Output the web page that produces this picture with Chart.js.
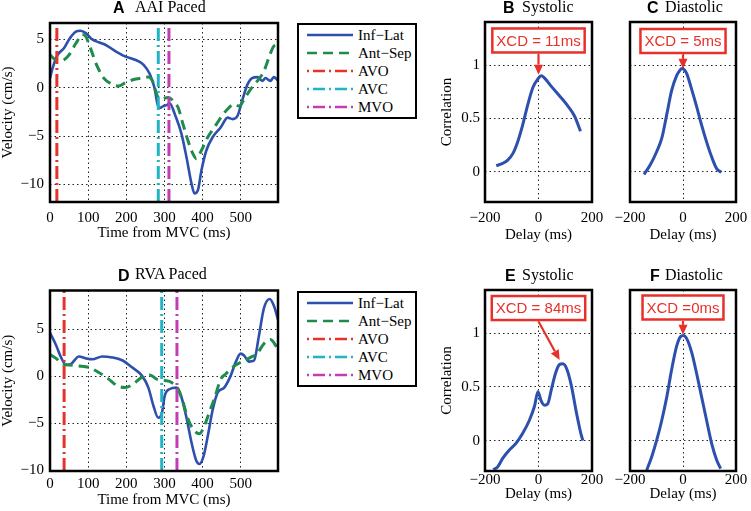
<!DOCTYPE html>
<html>
<head>
<meta charset="utf-8">
<script src="https://cdn.jsdelivr.net/npm/chart.js@4.4.1/dist/chart.umd.min.js"></script>
<style>
  body { margin: 0; background: #fff; }
  #fig { position: relative; width: 751px; height: 511px; overflow: hidden; background: #fff; }
  #fig canvas { position: absolute; }
  .lt { position: absolute; font: bold 16px "Liberation Sans", Arial, sans-serif; line-height: 16px; white-space: nowrap; }
  .tt { position: absolute; font: 16px "Liberation Serif", "Times New Roman", serif; line-height: 16px; white-space: nowrap; }
  .leg { position: absolute; box-sizing: border-box; width: 120px; height: 96px; border: 2.5px solid #000; background: #fff; }
  .leg span { position: absolute; font: 15px "Liberation Serif", "Times New Roman", serif; line-height: 18px; white-space: nowrap; }
  .leg svg { position: absolute; }
</style>
</head>
<body>
<div id="fig">
  <canvas id="cA" width="290" height="245" style="left:0;top:0"></canvas>
  <canvas id="cB" width="176" height="245" style="left:436px;top:0"></canvas>
  <canvas id="cC" width="146" height="245" style="left:605px;top:0"></canvas>
  <canvas id="cD" width="290" height="260" style="left:0;top:250px"></canvas>
  <canvas id="cE" width="176" height="260" style="left:436px;top:250px"></canvas>
  <canvas id="cF" width="146" height="260" style="left:605px;top:250px"></canvas>

  <div class="lt" style="left:113px;top:-0.5px">A</div><div class="tt" style="left:135px;top:-1.5px">AAI Paced</div>
  <div class="lt" style="left:503px;top:-0.5px">B</div><div class="tt" style="left:522px;top:-1.5px">Systolic</div>
  <div class="lt" style="left:647px;top:-0.5px">C</div><div class="tt" style="left:665px;top:-1.5px">Diastolic</div>
  <div class="lt" style="left:118px;top:268px">D</div><div class="tt" style="left:135px;top:266px">RVA Paced</div>
  <div class="lt" style="left:505px;top:268px">E</div><div class="tt" style="left:522px;top:266.5px">Systolic</div>
  <div class="lt" style="left:650px;top:268px">F</div><div class="tt" style="left:665px;top:266.5px">Diastolic</div>

  <div class="leg" id="legA" style="left:297px;top:23px"></div>
  <div class="leg" id="legD" style="left:297px;top:291px"></div>
</div>
<script>
// series names and event markers
const seriesNames = ["Inf\u2212Lat", "Ant\u2212Sep", "AVO", "AVC", "MVO"];
const seriesColors = ["#2d4fae", "#1f8c4c", "#e5322b", "#22b3c4", "#c23db4"];

// A: AAI paced velocity (cm/s) vs time from MVC (ms)
const aInfLatT = [0, 7, 20, 37, 50, 68, 80, 94, 111, 128, 145, 171, 197, 223, 245, 262, 274, 282, 288, 297, 306, 314, 327, 345, 358, 371, 379, 388, 397, 410, 427, 448, 466, 479, 492, 505, 518, 530, 544, 557, 565, 578, 587, 598];
const aInfLatV = [1.0, 2.05, 3.4, 4.1, 5.0, 5.8, 5.9, 5.65, 5.0, 4.7, 4.45, 3.8, 3.25, 2.9, 2.4, 1.4, 0, -1.7, -2.1, -1.9, -1.8, -1.6, -2.7, -4.8, -7.2, -9.9, -10.95, -10.6, -8.6, -6.5, -5.1, -4.1, -3.1, -3.25, -2.9, -1.2, 0.35, 1.0, 1.1, 0.7, 1.0, 0.7, 1.1, 0.75];
const aAntSepT = [0, 11, 24, 37, 50, 68, 85, 94, 106, 124, 141, 163, 180, 197, 219, 241, 258, 271, 280, 288, 310, 327, 336, 349, 362, 375, 384, 397, 414, 431, 448, 466, 483, 496, 509, 526, 544, 561, 574, 587, 598];
const aAntSepV = [3.4, 3.0, 2.75, 2.9, 3.4, 4.6, 5.5, 5.3, 4.1, 2.2, 1.0, 0.35, 0.17, 0.5, 0.85, 1.0, 1.1, 0.5, -0.7, -1.2, -1.0, -1.55, -2.05, -3.8, -5.5, -6.85, -7.35, -6.5, -5.1, -4.1, -3.1, -2.2, -1.7, -1.9, -1.2, -0.17, 0.7, 1.7, 3.1, 4.3, 4.45];
const aEvents = [18, 284, 312]; // AVO, AVC, MVO

// D: RVA paced
const dInfLatT = [0, 16, 29, 42, 55, 76, 94, 111, 137, 163, 189, 215, 241, 258, 271, 284, 293, 301, 314, 332, 345, 358, 371, 384, 392, 403, 414, 427, 440, 457, 474, 487, 500, 509, 522, 535, 548, 561, 576, 587, 598];
const dInfLatV = [4.6, 3.3, 2.0, 1.2, 1.3, 2.1, 1.9, 1.8, 2.1, 2.0, 1.7, 0.95, 0.07, -1.2, -3.1, -4.4, -4.0, -2.05, -1.35, -1.2, -2.25, -4.4, -7.0, -9.0, -9.3, -8.45, -6.3, -3.5, -1.7, -1.2, 0.07, 1.5, 2.4, 2.2, 1.55, 1.65, 4.3, 7.2, 8.2, 7.5, 6.0];
const dAntSepT = [0, 16, 33, 50, 76, 102, 128, 154, 176, 197, 219, 241, 262, 280, 301, 319, 336, 349, 362, 379, 392, 405, 418, 431, 448, 461, 474, 492, 509, 526, 543, 561, 578, 598];
const dAntSepV = [2.3, 1.9, 1.3, 1.2, 1.1, 0.95, 0.4, -0.3, -1.0, -1.2, -0.8, -0.1, 0.14, -0.3, -0.45, -0.65, -1.35, -2.75, -4.55, -5.8, -6.1, -5.25, -3.8, -2.4, -0.3, 0.25, 0.8, 1.3, 1.65, 2.0, 2.4, 3.45, 3.9, 2.9];
const dEvents = [37, 293, 333];

// B-F: correlation vs delay (ms)
const bDelay = [-158, -134, -115, -96, -78, -59, -40, -21, -2, 10, 22, 48, 79, 110, 135, 157];
const bCorr = [0.057, 0.079, 0.11, 0.17, 0.28, 0.44, 0.63, 0.79, 0.87, 0.90, 0.88, 0.80, 0.71, 0.615, 0.52, 0.38];
const cDelay = [-147, -124, -99, -80, -61, -43, -24, -12, -4, 5, 14, 33, 51, 70, 89, 108, 127, 145];
const cCorr = [-0.025, 0.063, 0.19, 0.315, 0.54, 0.76, 0.9, 0.95, 0.968, 0.955, 0.92, 0.77, 0.615, 0.44, 0.28, 0.14, 0.03, -0.006];
const eDelay = [-169, -153, -134, -109, -84, -59, -34, -15, -2, 10, 22, 35, 48, 64, 79, 91, 106, 123, 142, 158, 166];
const eCorr = [-0.27, -0.245, -0.166, -0.088, -0.025, 0.069, 0.19, 0.32, 0.455, 0.37, 0.33, 0.345, 0.475, 0.63, 0.71, 0.715, 0.665, 0.51, 0.257, 0.07, 0.0];
const fDelay = [-137, -118, -99, -80, -61, -43, -24, -9, 1, 14, 33, 51, 70, 89, 108, 127, 142];
const fCorr = [-0.275, -0.15, 0.006, 0.19, 0.41, 0.66, 0.88, 0.97, 0.98, 0.95, 0.82, 0.63, 0.41, 0.19, -0.025, -0.18, -0.26];

// annotations: label, box centre (delay, corr), arrow tip (delay, corr)
const xcdLabels = ["XCD = 11ms", "XCD = 5ms", "XCD = 84ms", "XCD =0ms"];
const xcdBoxAt = [[0, 1.23], [0, 1.225], [0, 1.235], [0, 1.24]];
const xcdTips = [[0, 0.91], [0, 0.965], [79, 0.75], [0, 0.985]];

// tick labels
const timeTicks = [0, 100, 200, 300, 400, 500];
const velTicks = [-10, -5, 0, 5];
const delayTicks = [-200, 0, 200];
const corrTicks = [0, 0.5, 1];

Chart.defaults.color = "#000";
Chart.defaults.font.family = '"Liberation Serif", "Times New Roman", serif';

const serif15 = { family: '"Liberation Serif", "Times New Roman", serif', size: 15, lineHeight: 1.2 };
const annRed = "#e8302a";
const dashDot = [13, 4, 2, 4];

function pts(t, v) { return t.map((x, i) => ({ x: x, y: v[i] })); }
function fmt(v) { return String(v).replace("-", "\u2212"); }

function velocitySets(tI, vI, tA, vA, ev, lim) {
  const sets = [
    { data: pts(tI, vI), borderColor: seriesColors[0], borderWidth: 2.6, order: 4, cubicInterpolationMode: "monotone" },
    { data: pts(tA, vA), borderColor: seriesColors[1], borderWidth: 3, borderDash: [10, 6], order: 3, cubicInterpolationMode: "monotone" }
  ];
  ev.forEach((t, i) => {
    sets.push({ data: [{ x: t, y: lim[0] }, { x: t, y: lim[1] }], borderColor: seriesColors[2 + i],
      borderWidth: 3, borderDash: dashDot, order: 2 - i, tension: 0 });
  });
  return sets;
}
function corrSet(t, v) {
  return [{ data: pts(t, v), borderColor: seriesColors[0], borderWidth: 3, cubicInterpolationMode: "monotone" }];
}

const framePlugin = {
  id: "frame",
  afterDraw(chart) {
    const a = chart.chartArea, ctx = chart.ctx;
    ctx.save();
    ctx.strokeStyle = "#000";
    ctx.lineWidth = 2.5;
    ctx.strokeRect(a.left, a.top, a.right - a.left, a.bottom - a.top);
    ctx.restore();
  }
};

const xcdPlugin = {
  id: "xcd",
  afterDraw(chart, args, o) {
    if (!o || !o.text) return;
    const ctx = chart.ctx, x = chart.scales.x, y = chart.scales.y;
    const cx = x.getPixelForValue(o.box[0]), cy = y.getPixelForValue(o.box[1]);
    ctx.save();
    ctx.font = '15px "Liberation Sans", Arial, sans-serif';
    const w = ctx.measureText(o.text).width + 8, h = 24;
    ctx.fillStyle = "#fff";
    ctx.fillRect(cx - w / 2, cy - h / 2, w, h);
    ctx.strokeStyle = annRed;
    ctx.lineWidth = 2.5;
    ctx.strokeRect(cx - w / 2, cy - h / 2, w, h);
    ctx.fillStyle = annRed;
    ctx.textAlign = "center";
    ctx.textBaseline = "middle";
    ctx.fillText(o.text, cx, cy + 1);
    // arrow
    const sx = cx, sy = cy + h / 2 + 1.5;
    const tx = x.getPixelForValue(o.tip[0]), ty = y.getPixelForValue(o.tip[1]);
    const ang = Math.atan2(ty - sy, tx - sx), hl = 10, hw = 4.5;
    const bx = tx - hl * Math.cos(ang), by = ty - hl * Math.sin(ang);
    ctx.lineWidth = 2.2;
    ctx.beginPath(); ctx.moveTo(sx, sy); ctx.lineTo(bx, by); ctx.stroke();
    ctx.beginPath();
    ctx.moveTo(tx, ty);
    ctx.lineTo(bx + hw * Math.sin(ang), by - hw * Math.cos(ang));
    ctx.lineTo(bx - hw * Math.sin(ang), by + hw * Math.cos(ang));
    ctx.closePath(); ctx.fill();
    ctx.restore();
  }
};

function panel(id, c) {
  return new Chart(document.getElementById(id), {
    type: "line",
    data: { datasets: c.datasets },
    options: {
      responsive: false,
      animation: false,
      events: [],
      layout: { padding: { top: c.padTop, right: c.padRight, left: 0, bottom: 0 } },
      elements: { point: { radius: 0 }, line: { borderJoinStyle: "round", fill: false } },
      plugins: { legend: { display: false }, tooltip: { enabled: false }, xcd: c.xcd || {} },
      scales: {
        x: {
          type: "linear", min: c.xMin, max: c.xMax,
          afterBuildTicks: s => { s.ticks = c.xTicks.map(v => ({ value: v })); },
          afterFit: s => { s.height = c.xH; s.paddingLeft = 0; s.paddingRight = 0; },
          grid: { color: "#222", lineWidth: 1, drawTicks: false },
          border: { display: false, dash: [1.5, 3] },
          ticks: { padding: c.xTickPad, font: serif15, color: "#000", maxRotation: 0, autoSkip: false, callback: fmt },
          title: { display: true, text: c.xTitle, font: serif15, color: "#000", padding: { top: 0, bottom: c.xTitlePad } }
        },
        y: {
          type: "linear", min: c.yMin, max: c.yMax,
          afterBuildTicks: s => { s.ticks = c.yTicks.map(v => ({ value: v })); },
          afterFit: s => { s.width = c.yW; s.paddingTop = 0; s.paddingBottom = 0; },
          grid: { color: "#222", lineWidth: 1, drawTicks: false },
          border: { display: false, dash: [1.5, 3] },
          ticks: { display: !!c.yTitle, padding: c.yTickPad, font: serif15, color: "#000", autoSkip: false, callback: fmt },
          title: { display: !!c.yTitle, text: c.yTitle || "", font: serif15, color: "#000", padding: { top: c.yTitlePad, bottom: 0 } }
        }
      }
    },
    plugins: [framePlugin, xcdPlugin]
  });
}

const aLim = [-11.83, 6.7], dLim = [-10.05, 9.1], rLim = [-0.283, 1.403];

panel("cA", { datasets: velocitySets(aInfLatT, aInfLatV, aAntSepT, aAntSepV, aEvents, aLim),
  xMin: 0, xMax: 598, yMin: aLim[0], yMax: aLim[1], xTicks: timeTicks, yTicks: velTicks,
  padTop: 23, padRight: 12, xH: 43, yW: 50, xTickPad: 7, xTitlePad: 3, yTickPad: 6, yTitlePad: -1,
  xTitle: "Time from MVC (ms)", yTitle: "Velocity (cm/s)" });
panel("cD", { datasets: velocitySets(dInfLatT, dInfLatV, dAntSepT, dAntSepV, dEvents, dLim),
  xMin: 0, xMax: 598, yMin: dLim[0], yMax: dLim[1], xTicks: timeTicks, yTicks: velTicks,
  padTop: 40.5, padRight: 12, xH: 39, yW: 50, xTickPad: 4, xTitlePad: 1, yTickPad: 6, yTitlePad: -1,
  xTitle: "Time from MVC (ms)", yTitle: "Velocity (cm/s)" });

const corrPanels = [
  ["cB", bDelay, bCorr, 0, 22, 43, 49, 7, 1, "Correlation"],
  ["cC", cDelay, cCorr, 1, 22, 43, 25, 7, 1, null],
  ["cE", eDelay, eCorr, 2, 40, 39, 49, 0, 7, "Correlation"],
  ["cF", fDelay, fCorr, 3, 40, 39, 25, 0, 7, null]
];
corrPanels.forEach(p => {
  panel(p[0], { datasets: corrSet(p[1], p[2]),
    xMin: -200, xMax: 200, yMin: rLim[0], yMax: rLim[1], xTicks: delayTicks, yTicks: corrTicks,
    padTop: p[4], padRight: p[6] === 49 ? 20 : 15, xH: p[5], yW: p[6], xTickPad: p[7], xTitlePad: p[8],
    yTickPad: 5, yTitlePad: 2, xTitle: "Delay (ms)", yTitle: p[9],
    xcd: { text: xcdLabels[p[3]], box: xcdBoxAt[p[3]], tip: xcdTips[p[3]] } });
});

// legends
const legDash = ["", "10 6", "2 4 12 4", "2 4 12 4", "2 4 12 4"];
["legA", "legD"].forEach(id => {
  const box = document.getElementById(id);
  seriesNames.forEach((name, i) => {
    const c = 9.5 + i * 18.1;
    const ns = "http://www.w3.org/2000/svg";
    const svg = document.createElementNS(ns, "svg");
    svg.setAttribute("width", "46"); svg.setAttribute("height", "6");
    svg.style.left = "8px"; svg.style.top = (c - 3) + "px";
    const ln = document.createElementNS(ns, "line");
    ln.setAttribute("x1", "0"); ln.setAttribute("y1", "3"); ln.setAttribute("x2", "46"); ln.setAttribute("y2", "3");
    ln.setAttribute("stroke", seriesColors[i]); ln.setAttribute("stroke-width", "2.6");
    if (legDash[i]) ln.setAttribute("stroke-dasharray", legDash[i]);
    svg.appendChild(ln);
    box.appendChild(svg);
    const s = document.createElement("span");
    s.textContent = name;
    s.style.left = "59px"; s.style.top = (c - 9) + "px";
    box.appendChild(s);
  });
});
</script>
</body>
</html>
